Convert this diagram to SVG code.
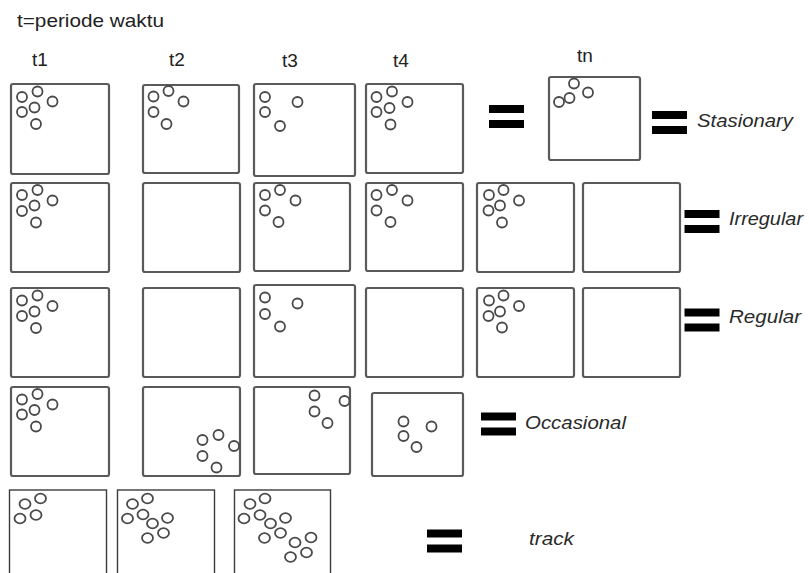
<svg xmlns="http://www.w3.org/2000/svg" width="809" height="573" viewBox="0 0 809 573">
  <style>
    .box { fill: #ffffff; stroke: #5a5a5a; stroke-width: 2.2; }
    .box-thin { fill: #ffffff; stroke: #3c3c3c; stroke-width: 1.4; }
    .dot { fill: none; stroke: #4a4a4a; stroke-width: 1.8; }
    .eq { fill: #000000; }
    .lbl { font-family: "Liberation Sans", Arial, sans-serif; font-size: 19px; fill: #222222; }
    .cat { font-family: "Liberation Sans", Arial, sans-serif; font-size: 19px; font-style: italic; fill: #2a2a2a; }
  </style>
  <defs>
    <!-- "=" sign: two black bars -->
    <g id="eq-sign">
      <rect class="eq" x="0" y="0" width="35" height="8"/>
      <rect class="eq" x="0" y="15" width="35" height="8"/>
    </g>
  </defs>

  <rect width="809" height="573" fill="#ffffff"/>

  <!-- headings -->
  <g id="labels">
    <text class="lbl" x="17" y="27" textLength="147" lengthAdjust="spacingAndGlyphs">t=periode waktu</text>
    <text class="lbl" x="32" y="66">t1</text>
    <text class="lbl" x="169" y="66">t2</text>
    <text class="lbl" x="282" y="67">t3</text>
    <text class="lbl" x="393" y="67">t4</text>
    <text class="lbl" x="577" y="62">tn</text>
  </g>

  <!-- row 1: stationary -->
  <g id="r1-t1">
    <rect class="box" x="11" y="84" width="98" height="90" rx="2"/>
    <circle class="dot" cx="22" cy="97" r="5"/><circle class="dot" cx="37.5" cy="91.5" r="5"/>
    <circle class="dot" cx="52.5" cy="101.5" r="5"/><circle class="dot" cx="22" cy="112" r="5"/>
    <circle class="dot" cx="34.5" cy="107.5" r="5"/><circle class="dot" cx="36" cy="124" r="5"/>
  </g>
  <g id="r1-t2">
    <rect class="box" x="143" y="85" width="96" height="88" rx="2"/>
    <circle class="dot" cx="153.5" cy="96.5" r="5"/><circle class="dot" cx="168.5" cy="91" r="5"/>
    <circle class="dot" cx="183.5" cy="101.5" r="5"/><circle class="dot" cx="153.5" cy="112" r="5"/>
    <circle class="dot" cx="166.5" cy="124" r="5"/>
  </g>
  <g id="r1-t3">
    <rect class="box" x="254" y="84" width="101" height="92" rx="2"/>
    <circle class="dot" cx="265" cy="97" r="5"/><circle class="dot" cx="265" cy="112" r="5"/>
    <circle class="dot" cx="297.5" cy="102" r="5"/><circle class="dot" cx="280" cy="126" r="5"/>
  </g>
  <g id="r1-t4">
    <rect class="box" x="366" y="84" width="97" height="89" rx="2"/>
    <circle class="dot" cx="376.5" cy="97" r="5"/><circle class="dot" cx="392" cy="91.5" r="5"/>
    <circle class="dot" cx="407.5" cy="102" r="5"/><circle class="dot" cx="376.5" cy="112" r="5"/>
    <circle class="dot" cx="389.5" cy="108" r="5"/><circle class="dot" cx="390.5" cy="124.5" r="5"/>
  </g>
  <use href="#eq-sign" x="489" y="105"/>
  <g id="r1-tn">
    <rect class="box" x="549" y="77" width="91" height="83" rx="2"/>
    <circle class="dot" cx="559" cy="102" r="5"/><circle class="dot" cx="569.5" cy="98" r="5"/>
    <circle class="dot" cx="574" cy="83.5" r="5"/><circle class="dot" cx="588" cy="92.5" r="5"/>
  </g>
  <use href="#eq-sign" x="652" y="111"/>
  <text class="cat" x="697" y="127" textLength="96" lengthAdjust="spacingAndGlyphs">Stasionary</text>

  <!-- row 2: irregular -->
  <g id="r2-t1">
    <rect class="box" x="11" y="183" width="98" height="89" rx="2"/>
    <circle class="dot" cx="22" cy="195" r="5"/><circle class="dot" cx="37.5" cy="190" r="5"/>
    <circle class="dot" cx="52.5" cy="200.5" r="5"/><circle class="dot" cx="22" cy="211" r="5"/>
    <circle class="dot" cx="34.5" cy="205.5" r="5"/><circle class="dot" cx="36" cy="222.5" r="5"/>
  </g>
  <g id="r2-t2">
    <rect class="box" x="143" y="183" width="97" height="89" rx="2"/>
  </g>
  <g id="r2-t3">
    <rect class="box" x="254" y="183" width="96" height="88" rx="2"/>
    <circle class="dot" cx="265" cy="195" r="5"/><circle class="dot" cx="280" cy="190" r="5"/>
    <circle class="dot" cx="295.5" cy="200.5" r="5"/><circle class="dot" cx="265" cy="210.5" r="5"/>
    <circle class="dot" cx="278.5" cy="222" r="5"/>
  </g>
  <g id="r2-t4">
    <rect class="box" x="366" y="183" width="97" height="88" rx="2"/>
    <circle class="dot" cx="376.5" cy="195" r="5"/><circle class="dot" cx="392" cy="190" r="5"/>
    <circle class="dot" cx="407.5" cy="200.5" r="5"/><circle class="dot" cx="376.5" cy="210.5" r="5"/>
    <circle class="dot" cx="390.5" cy="222" r="5"/>
  </g>
  <g id="r2-t5">
    <rect class="box" x="477" y="183" width="97" height="89" rx="2"/>
    <circle class="dot" cx="489" cy="195" r="5"/><circle class="dot" cx="503.5" cy="190" r="5"/>
    <circle class="dot" cx="519" cy="200.5" r="5"/><circle class="dot" cx="488.5" cy="210.5" r="5"/>
    <circle class="dot" cx="500" cy="205.5" r="5"/><circle class="dot" cx="502" cy="222.5" r="5"/>
  </g>
  <g id="r2-t6">
    <rect class="box" x="583" y="183" width="97" height="89" rx="2"/>
  </g>
  <use href="#eq-sign" x="684.5" y="210"/>
  <text class="cat" x="729" y="225" textLength="74" lengthAdjust="spacingAndGlyphs">Irregular</text>

  <!-- row 3: regular -->
  <g id="r3-t1">
    <rect class="box" x="11" y="288" width="98" height="89" rx="2"/>
    <circle class="dot" cx="22" cy="300.5" r="5"/><circle class="dot" cx="37.5" cy="295.5" r="5"/>
    <circle class="dot" cx="52.5" cy="306" r="5"/><circle class="dot" cx="22" cy="316" r="5"/>
    <circle class="dot" cx="34.5" cy="311.5" r="5"/><circle class="dot" cx="36" cy="328" r="5"/>
  </g>
  <g id="r3-t2">
    <rect class="box" x="143" y="288" width="97" height="89" rx="2"/>
  </g>
  <g id="r3-t3">
    <rect class="box" x="254" y="285" width="101" height="92" rx="2"/>
    <circle class="dot" cx="265" cy="297.5" r="5"/><circle class="dot" cx="297.5" cy="303.5" r="5"/>
    <circle class="dot" cx="265" cy="314" r="5"/><circle class="dot" cx="280" cy="326.5" r="5"/>
  </g>
  <g id="r3-t4">
    <rect class="box" x="366" y="288" width="97" height="89" rx="2"/>
  </g>
  <g id="r3-t5">
    <rect class="box" x="477" y="288" width="97" height="89" rx="2"/>
    <circle class="dot" cx="489" cy="300.5" r="5"/><circle class="dot" cx="503.5" cy="295.5" r="5"/>
    <circle class="dot" cx="519" cy="306" r="5"/><circle class="dot" cx="488.5" cy="316" r="5"/>
    <circle class="dot" cx="500" cy="311.5" r="5"/><circle class="dot" cx="502" cy="327.5" r="5"/>
  </g>
  <g id="r3-t6">
    <rect class="box" x="583" y="288" width="97" height="89" rx="2"/>
  </g>
  <use href="#eq-sign" x="684.5" y="308.5"/>
  <text class="cat" x="729" y="323" textLength="72" lengthAdjust="spacingAndGlyphs">Regular</text>

  <!-- row 4: occasional -->
  <g id="r4-t1">
    <rect class="box" x="11" y="387" width="98" height="89" rx="2"/>
    <circle class="dot" cx="22" cy="399.5" r="5"/><circle class="dot" cx="37.5" cy="394" r="5"/>
    <circle class="dot" cx="52.5" cy="404.5" r="5"/><circle class="dot" cx="22" cy="414.5" r="5"/>
    <circle class="dot" cx="34.5" cy="410" r="5"/><circle class="dot" cx="36" cy="426.5" r="5"/>
  </g>
  <g id="r4-t2">
    <rect class="box" x="143" y="387" width="97" height="89" rx="2"/>
    <circle class="dot" cx="202.5" cy="440" r="5"/><circle class="dot" cx="218.5" cy="435" r="5"/>
    <circle class="dot" cx="234" cy="446" r="5"/><circle class="dot" cx="202.5" cy="456" r="5"/>
    <circle class="dot" cx="216.5" cy="467.5" r="5"/>
  </g>
  <g id="r4-t3">
    <rect class="box" x="254" y="387" width="96" height="87" rx="2"/>
    <circle class="dot" cx="314.5" cy="395.5" r="5"/><circle class="dot" cx="344.5" cy="401" r="5"/>
    <circle class="dot" cx="314.5" cy="411.5" r="5"/><circle class="dot" cx="327.5" cy="423" r="5"/>
  </g>
  <g id="r4-t4">
    <rect class="box" x="372" y="393" width="91" height="83" rx="2"/>
    <circle class="dot" cx="403.5" cy="421.5" r="5"/><circle class="dot" cx="431.5" cy="426.5" r="5"/>
    <circle class="dot" cx="403.5" cy="436" r="5"/><circle class="dot" cx="416.5" cy="447" r="5"/>
  </g>
  <use href="#eq-sign" x="481" y="412.5"/>
  <text class="cat" x="525" y="429" textLength="101" lengthAdjust="spacingAndGlyphs">Occasional</text>

  <!-- row 5: track -->
  <g id="r5-a">
    <rect class="box-thin" x="9.5" y="490" width="97" height="100"/>
    <ellipse class="dot" cx="25" cy="504" rx="5.5" ry="4.8"/><ellipse class="dot" cx="40.5" cy="498.5" rx="5.5" ry="4.8"/>
    <ellipse class="dot" cx="20" cy="518.5" rx="5.5" ry="4.8"/><ellipse class="dot" cx="36" cy="515" rx="5.5" ry="4.8"/>
  </g>
  <g id="r5-b">
    <rect class="box-thin" x="117.5" y="490" width="97" height="100"/>
    <ellipse class="dot" cx="132.5" cy="504" rx="5.5" ry="4.8"/><ellipse class="dot" cx="147.5" cy="498.5" rx="5.5" ry="4.8"/>
    <ellipse class="dot" cx="127.5" cy="518.5" rx="5.5" ry="4.8"/><ellipse class="dot" cx="143" cy="514.5" rx="5.5" ry="4.8"/>
    <ellipse class="dot" cx="152.5" cy="523.5" rx="5.5" ry="4.8"/><ellipse class="dot" cx="167.5" cy="518" rx="5.5" ry="4.8"/>
    <ellipse class="dot" cx="163.5" cy="533" rx="5.5" ry="4.8"/><ellipse class="dot" cx="147.5" cy="538" rx="5.5" ry="4.8"/>
  </g>
  <g id="r5-c">
    <rect class="box-thin" x="234.5" y="490" width="96" height="100"/>
    <ellipse class="dot" cx="250" cy="504" rx="5.5" ry="4.8"/><ellipse class="dot" cx="265" cy="498.5" rx="5.5" ry="4.8"/>
    <ellipse class="dot" cx="244" cy="518.5" rx="5.5" ry="4.8"/><ellipse class="dot" cx="260" cy="515" rx="5.5" ry="4.8"/>
    <ellipse class="dot" cx="270.5" cy="523.5" rx="5.5" ry="4.8"/><ellipse class="dot" cx="285.5" cy="518" rx="5.5" ry="4.8"/>
    <ellipse class="dot" cx="280.5" cy="533" rx="5.5" ry="4.8"/><ellipse class="dot" cx="264.5" cy="538" rx="5.5" ry="4.8"/>
    <ellipse class="dot" cx="295" cy="542.5" rx="5.5" ry="4.8"/><ellipse class="dot" cx="311" cy="537.5" rx="5.5" ry="4.8"/>
    <ellipse class="dot" cx="306.5" cy="552.5" rx="5.5" ry="4.8"/><ellipse class="dot" cx="290.5" cy="557" rx="5.5" ry="4.8"/>
  </g>
  <use href="#eq-sign" x="427" y="529.5"/>
  <text class="cat" x="529" y="545" textLength="45" lengthAdjust="spacingAndGlyphs">track</text>
</svg>
